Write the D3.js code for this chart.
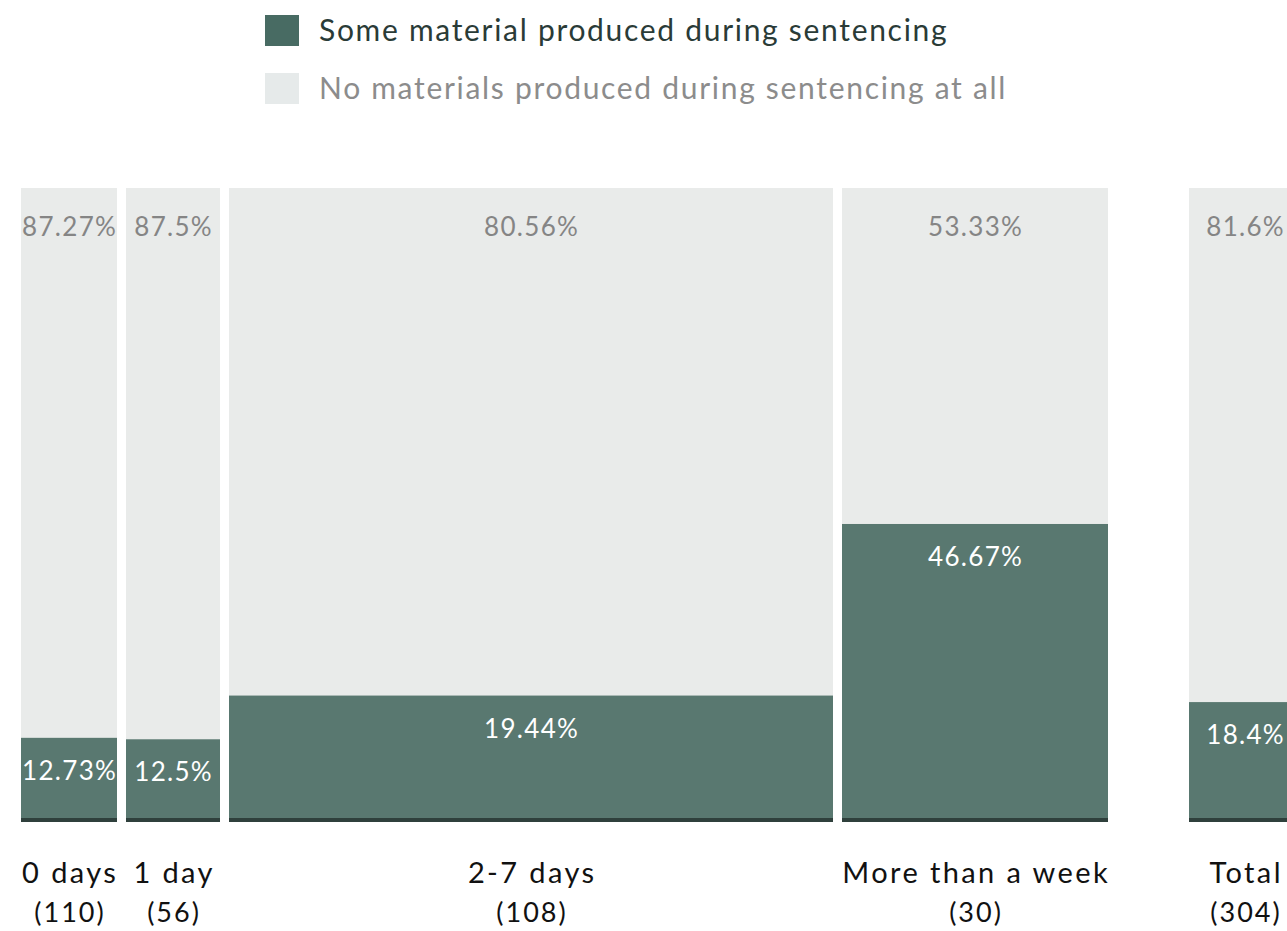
<!DOCTYPE html>
<html>
<head>
<meta charset="utf-8">
<script src="https://cdn.jsdelivr.net/npm/d3@7"></script>
<style>
  html, body { margin: 0; padding: 0; background: #fff; overflow: hidden; }
  svg { display: block; font-family: "Lato", "Noto Sans", sans-serif; }
</style>
</head>
<body>
<svg id="chart" width="1287" height="931"></svg>
<script>
// ---- data ----
const categories = ["0 days", "1 day", "2-7 days", "More than a week", "Total"];
const counts = [110, 56, 108, 30, 304];
const somePct = [12.73, 12.5, 19.44, 46.67, 18.4];
const nonePct = [87.27, 87.5, 80.56, 53.33, 81.6];
const someLabels = ["12.73%", "12.5%", "19.44%", "46.67%", "18.4%"];
const noneLabels = ["87.27%", "87.5%", "80.56%", "53.33%", "81.6%"];
const legendLabels = ["Some material produced during sentencing", "No materials produced during sentencing at all"];

// ---- layout ----
const colWidths = [96, 94, 604, 266, 112];
const colGaps = [0, 9, 9, 9, 81];
const plotLeft = 21, plotTop = 188, plotBottom = 818;
const colors = { some: "#597870", none: "#e9ebea", base: "#2f403c", legendSome: "#486b63", legendNone: "#e6eaea" };

const svg = d3.select("#chart");

const y = d3.scaleLinear().domain([0, 100]).range([plotBottom, plotTop]);

let acc = plotLeft;
const cols = categories.map((c, i) => {
  acc += colGaps[i];
  const x0 = acc;
  acc += colWidths[i];
  return { cat: c, n: counts[i], some: somePct[i], none: nonePct[i], sl: someLabels[i], nl: noneLabels[i], x0, x1: acc };
});

const g = svg.append("g");
const col = g.selectAll("g.col").data(cols).join("g").attr("class", "col");

// grey (none) segment on top
col.append("rect")
  .attr("x", d => d.x0).attr("width", d => d.x1 - d.x0)
  .attr("y", d => y(d.some + d.none)).attr("height", d => y(d.some) - y(d.some + d.none))
  .attr("fill", colors.none);
// green (some) segment at bottom
col.append("rect")
  .attr("x", d => d.x0).attr("width", d => d.x1 - d.x0)
  .attr("y", d => y(d.some)).attr("height", d => y(0) - y(d.some))
  .attr("fill", colors.some);
// dark base strip
col.append("rect")
  .attr("x", d => d.x0).attr("width", d => d.x1 - d.x0)
  .attr("y", y(0)).attr("height", 4)
  .attr("fill", colors.base);

const ls = 1.3;
// value labels
col.append("text")
  .attr("x", d => (d.x0 + d.x1) / 2 + ls / 2)
  .attr("y", d => y(d.some + d.none) + 48)
  .attr("text-anchor", "middle")
  .attr("font-size", 26).attr("letter-spacing", ls)
  .attr("fill", "#858585")
  .text(d => d.nl);
col.append("text")
  .attr("x", d => (d.x0 + d.x1) / 2 + ls / 2)
  .attr("y", d => y(d.some) + 42)
  .attr("text-anchor", "middle")
  .attr("font-size", 26).attr("letter-spacing", ls)
  .attr("fill", "#ffffff")
  .text(d => d.sl);

// category labels
col.append("text")
  .attr("x", d => (d.x0 + d.x1) / 2 + 1.2)
  .attr("y", 883)
  .attr("text-anchor", "middle")
  .attr("font-size", 29).attr("letter-spacing", 2.4)
  .attr("fill", "#111")
  .text(d => d.cat);
col.append("text")
  .attr("x", d => (d.x0 + d.x1) / 2 + 1)
  .attr("y", 922)
  .attr("text-anchor", "middle")
  .attr("font-size", 27).attr("letter-spacing", 2)
  .attr("fill", "#111")
  .text(d => "(" + d.n + ")");

// legend
const legend = svg.append("g").attr("transform", "translate(265,15)");
const lg = legend.selectAll("g").data(legendLabels).join("g")
  .attr("transform", (d, i) => `translate(0,${i * 58})`);
lg.append("rect").attr("width", 34).attr("height", 31)
  .attr("fill", (d, i) => i === 0 ? colors.legendSome : colors.legendNone);
lg.append("text").attr("x", 54).attr("y", 26)
  .attr("font-size", 30).attr("letter-spacing", 1.7)
  .attr("fill", (d, i) => i === 0 ? "#2a3b37" : "#8c8c8c")
  .text(d => d);
</script>
</body>
</html>
